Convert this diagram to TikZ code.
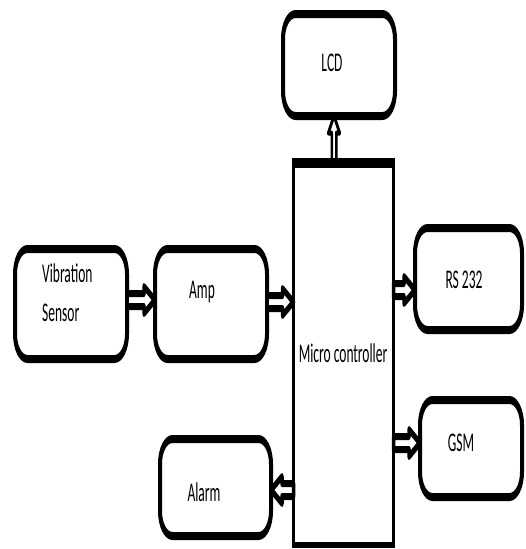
\documentclass[tikz,border=0pt]{standalone}
\usepackage{fontspec}
\setmainfont{Carlito}
\usetikzlibrary{calc}
\begin{document}
\begin{tikzpicture}
\useasboundingbox[fill=white] (0,0) rectangle (525pt,-549pt);
\begin{scope}[transform canvas={yscale=2}, x=1pt, y=-0.5pt,
  rbox/.style={draw, line width=4pt, rounded corners=12.5pt, outer sep=0pt, inner sep=0pt},
  mcbox/.style={draw, line width=3pt, outer sep=0pt, inner sep=0pt},
  txt/.style={font=\fontsize{13.5}{19.5}\selectfont, inner sep=0pt},
  harrow/.style={draw, line width=3.5pt, fill=white, line join=round,
    to path={let \p1=(\tikztostart), \p2=(\tikztotarget), \n1={sign(\x2-\x1)} in
      ({\x1},{\y1+3.25pt}) -- ({\x2-\n1*11pt},{\y1+3.25pt}) -- ({\x2-\n1*11pt},{\y1+6.75pt})
      -- ({\x2},{\y1}) -- ({\x2-\n1*11pt},{\y1-6.75pt}) -- ({\x2-\n1*11pt},{\y1-3.25pt})
      -- ({\x1},{\y1-3.25pt}) -- cycle}},
  varrow/.style={draw, line width=2.5pt, fill=white, line join=round,
    to path={let \p1=(\tikztostart), \p2=(\tikztotarget), \n1={sign(\y2-\y1)} in
      ({\x1-2.25pt},{\y1}) -- ({\x1-2.25pt},{\y2-\n1*8.5pt}) -- ({\x1-5.75pt},{\y2-\n1*8.5pt})
      -- ({\x1},{\y2}) -- ({\x1+5.75pt},{\y2-\n1*8.5pt}) -- ({\x1+2.25pt},{\y2-\n1*8.5pt})
      -- ({\x1+2.25pt},{\y1}) -- cycle}}]

% boxes
\node[rbox, minimum width=112pt, minimum height=55pt] (vib) at (71,304) {};
\node[rbox, minimum width=112pt, minimum height=55pt] (amp) at (211,304) {};
\node[rbox, minimum width=112pt, minimum height=51pt] (lcd) at (339,65) {};
\node[rbox, minimum width=107pt, minimum height=51pt] (rs) at (468.5,279) {};
\node[rbox, minimum width=102pt, minimum height=48.5pt] (gsm) at (471,448.5) {};
\node[rbox, minimum width=111pt, minimum height=48.5pt] (alarm) at (215.5,487.5) {};
\node[mcbox, minimum width=100pt, minimum height=191pt] (mc) at (343.5,354) {};

% texts
\node[txt, align=left, anchor=west] (vibt) at (42,292.5) {Vibration\\Sensor};
\node[txt] (ampt) at (202,292) {Amp};
\node[txt] (lcdt) at (332,63) {LCD};
\node[txt] (rst) at (464,280) {RS 232};
\node[txt] (gsmt) at (461,443) {GSM};
\node[txt] (alarmt) at (204,492) {Alarm};
\node[txt] (mct) at (343,353) {Micro controller};

% connectors
\draw[varrow] ([xshift=-5pt]lcd.south |- mc.north) to ([xshift=-5pt]lcd.south);
\draw[line width=5pt] ([xshift=-1.5pt]mc.north west) -- ([xshift=1.5pt]mc.north east);
\draw[harrow] ([yshift=2pt]vib.east) to ([yshift=2pt]amp.west);
\draw[harrow] ([yshift=1pt]amp.east) to ([yshift=1pt]amp.east -| mc.west);
\draw[harrow] ([yshift=-5.5pt]rs.west -| mc.east) to ([yshift=-5.5pt]rs.west);
\draw[harrow] ([yshift=2.75pt]gsm.west -| mc.east) to ([yshift=2.75pt]gsm.west);
\draw[harrow] ([yshift=-1.25pt]alarm.east -| mc.west) to ([yshift=-1.25pt]alarm.east);
\end{scope}
\end{tikzpicture}
\end{document}
